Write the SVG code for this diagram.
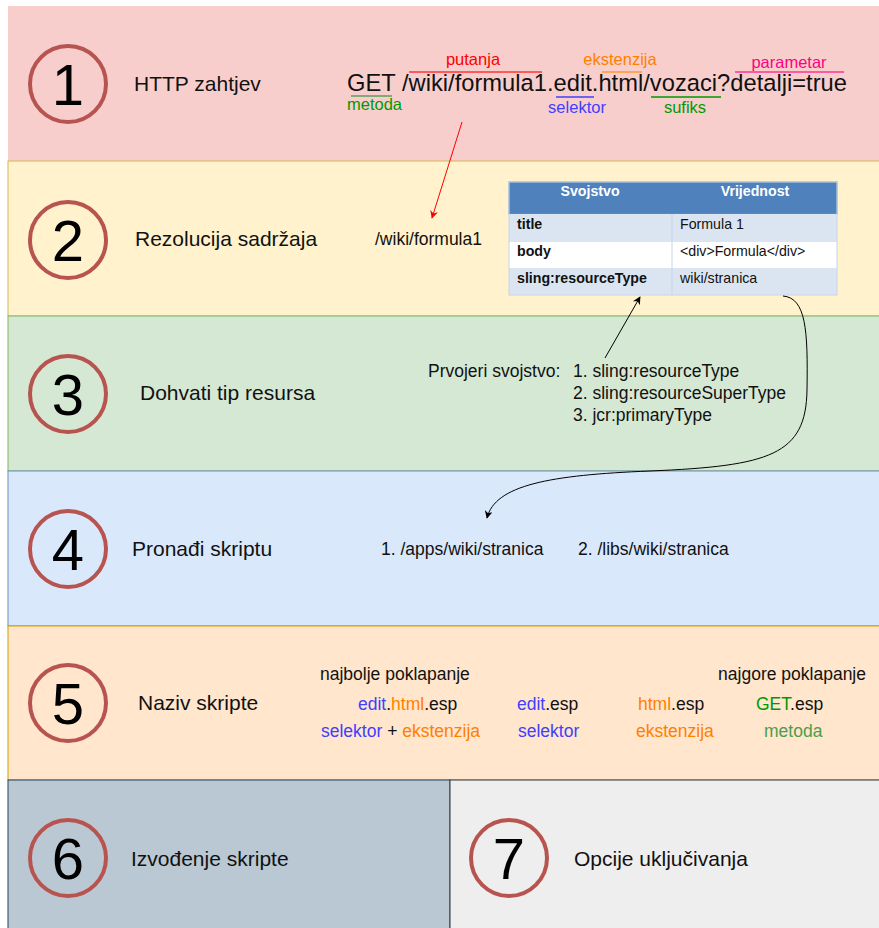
<svg xmlns="http://www.w3.org/2000/svg" width="879" height="928" viewBox="0 0 879 928">
<style>
text{font-family:"Liberation Sans",Arial,sans-serif;}
.num{font-size:58px;text-anchor:middle;fill:#000;}
.ring{fill:none;stroke:#b85450;stroke-width:4;}
.title{font-size:21px;fill:#111;}
.t15{font-size:17.5px;fill:#111;}
.lbl{font-size:16.5px;}
.th{font-size:14.2px;font-weight:bold;fill:#fff;text-anchor:middle;}
.td{font-size:14.2px;fill:#111;}
.tb{font-size:14.2px;font-weight:bold;fill:#111;}
.blue{fill:#4040ff;}
.orange{fill:#ff8000;}
.green{fill:#009900;}
.lgreen{fill:#4c9e4c;}
</style>
<defs>
<marker id="arrBlack" viewBox="0 0 10 10" refX="9" refY="5" markerWidth="8" markerHeight="8" markerUnits="userSpaceOnUse" orient="auto"><path d="M0,0 L10,5 L0,10 L3,5 Z" fill="#000"/></marker>
<marker id="arrRed" viewBox="0 0 10 10" refX="9" refY="5" markerWidth="8" markerHeight="8" markerUnits="userSpaceOnUse" orient="auto"><path d="M0,0 L10,5 L0,10 L3,5 Z" fill="#ff0000"/></marker>
</defs>

<g id="band1">
<rect x="8" y="6" width="880" height="155" fill="#f8cecc"/>
<circle class="ring" cx="68" cy="84" r="38"/>
<text class="num" x="68" y="105">1</text>
<text class="title" x="134" y="91">HTTP zahtjev</text>
</g>

<g id="band2">
<rect x="8" y="161" width="880" height="155" fill="#fff2cc" stroke="#d6b656"/>
<circle class="ring" cx="68" cy="240" r="38"/>
<text class="num" x="68" y="261">2</text>
<text class="title" x="135" y="246">Rezolucija sadržaja</text>
<text class="t15" x="375" y="245">/wiki/formula1</text>
</g>

<g id="band3">
<rect x="8" y="316" width="880" height="155" fill="#d5e8d4" stroke="#82b366"/>
<circle class="ring" cx="68" cy="394" r="38"/>
<text class="num" x="68" y="415">3</text>
<text class="title" x="140" y="400">Dohvati tip resursa</text>
<text class="t15" x="428" y="377">Prvojeri svojstvo:</text>
<text class="t15" x="573" y="377">1. sling:resourceType</text>
<text class="t15" x="573" y="399">2. sling:resourceSuperType</text>
<text class="t15" x="573" y="421">3. jcr:primaryType</text>
</g>

<g id="band4">
<rect x="8" y="471" width="880" height="155" fill="#dae8fc" stroke="#6c8ebf"/>
<circle class="ring" cx="68" cy="549" r="38"/>
<text class="num" x="68" y="570">4</text>
<text class="title" x="132" y="556">Pronađi skriptu</text>
<text class="t15" x="381" y="555">1. /apps/wiki/stranica</text>
<text class="t15" x="578" y="555">2. /libs/wiki/stranica</text>
</g>

<g id="band5">
<rect x="8" y="626" width="880" height="154" fill="#ffe6cc" stroke="#d79b00"/>
<circle class="ring" cx="68" cy="703" r="38"/>
<text class="num" x="68" y="724">5</text>
<text class="title" x="138" y="710">Naziv skripte</text>
<text class="t15" x="320" y="680">najbolje poklapanje</text>
<text class="t15" x="866" y="680" text-anchor="end">najgore poklapanje</text>
<text class="t15" x="358" y="710"><tspan class="blue">edit</tspan>.<tspan class="orange">html</tspan>.esp</text>
<text class="t15" x="517" y="710"><tspan class="blue">edit</tspan>.esp</text>
<text class="t15" x="638" y="710"><tspan class="orange">html</tspan>.esp</text>
<text class="t15" x="756" y="710"><tspan class="green">GET</tspan>.esp</text>
<text class="t15" x="321" y="737"><tspan class="blue">selektor</tspan> + <tspan class="orange">ekstenzija</tspan></text>
<text class="t15 blue" x="518" y="737">selektor</text>
<text class="t15 orange" x="636" y="737">ekstenzija</text>
<text class="t15 lgreen" x="764" y="737">metoda</text>
</g>

<g id="band6">
<rect x="8" y="780" width="442" height="160" fill="#bac8d3" stroke="#23445d"/>
<circle class="ring" cx="68" cy="858" r="38"/>
<text class="num" x="68" y="879">6</text>
<text class="title" x="131" y="866">Izvođenje skripte</text>
</g>

<g id="band7">
<rect x="450" y="780" width="440" height="160" fill="#eeeeee" stroke="#36393d"/>
<circle class="ring" cx="509" cy="858" r="38"/>
<text class="num" x="509" y="879">7</text>
<text class="title" x="574" y="866">Opcije uključivanja</text>
</g>

<g id="request">
<text x="347" y="91" font-size="23.7" fill="#111" textLength="500" lengthAdjust="spacing">GET /wiki/formula1.edit.html/vozaci?detalji=true</text>
<line x1="409" y1="72" x2="542" y2="72" stroke="#ff3333" stroke-width="1.5"/>
<text class="lbl" x="473" y="65" fill="#ff0000" text-anchor="middle">putanja</text>
<line x1="602" y1="72" x2="642" y2="72" stroke="#ff9933" stroke-width="1.5"/>
<text class="lbl" x="620" y="65" fill="#ff8000" text-anchor="middle">ekstenzija</text>
<line x1="735" y1="72" x2="844" y2="72" stroke="#ff3399" stroke-width="1.5"/>
<text class="lbl" x="789" y="68" fill="#ff0080" text-anchor="middle">parametar</text>
<line x1="351" y1="96" x2="392" y2="96" stroke="#5a9e5a" stroke-width="1.5"/>
<text class="lbl" x="347" y="110" fill="#009900">metoda</text>
<line x1="556" y1="97" x2="594" y2="97" stroke="#4040ff" stroke-width="1.5"/>
<text class="lbl" x="577" y="113" fill="#4040ff" text-anchor="middle">selektor</text>
<line x1="651" y1="97" x2="721" y2="97" stroke="#009900" stroke-width="1.5"/>
<text class="lbl" x="685" y="113" fill="#009900" text-anchor="middle">sufiks</text>
</g>

<g id="table">
<rect x="509" y="182" width="328" height="32" fill="#4f81bd" stroke="#6c8ebf"/>
<rect x="509" y="214" width="328" height="28" fill="#dbe5f1"/>
<rect x="509" y="242" width="328" height="26" fill="#ffffff"/>
<rect x="509" y="268" width="328" height="27" fill="#dbe5f1"/>
<rect x="509" y="182" width="328" height="113" fill="none" stroke="#c6d5ea" stroke-width="1"/>
<line x1="672" y1="214" x2="672" y2="295" stroke="#c6d5ea"/>
<text class="th" x="590" y="196">Svojstvo</text>
<text class="th" x="755" y="196">Vrijednost</text>
<text class="tb" x="517" y="229">title</text>
<text class="td" x="680" y="229">Formula 1</text>
<text class="tb" x="517" y="256">body</text>
<text class="td" x="680" y="256">&lt;div&gt;Formula&lt;/div&gt;</text>
<text class="tb" x="517" y="283">sling:resourceType</text>
<text class="td" x="680" y="283">wiki/stranica</text>
</g>

<g id="connectors">
<path d="M462,122 L432,218" fill="none" stroke="#ff0000" stroke-width="1" marker-end="url(#arrRed)"/>
<path d="M605,358 L640,297" fill="none" stroke="#000" stroke-width="1" marker-end="url(#arrBlack)"/>
<path d="M783,296 C806,298 808,330 807,390 C806,455 770,466 650,471 C550,475 495,485 487,518" fill="none" stroke="#000" stroke-width="1" marker-end="url(#arrBlack)"/>
</g>
</svg>
